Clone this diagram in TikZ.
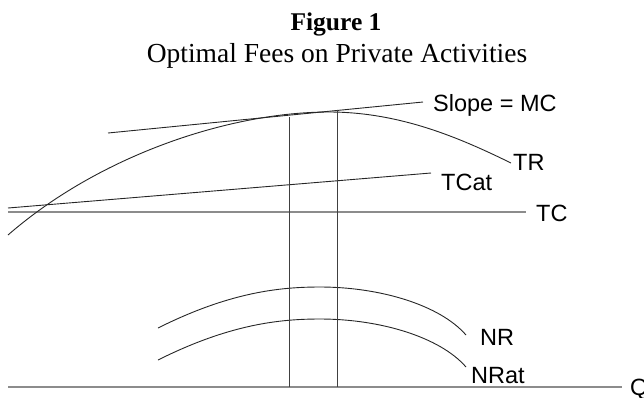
\documentclass[tikz,border=0pt]{standalone}
\usepackage{fontspec}
\setmainfont{Liberation Serif}
\setsansfont{Liberation Sans}
\usetikzlibrary{positioning}

\begin{document}
\begin{tikzpicture}[x=1bp,y=-1bp,
  curve/.style={line width=0.9bp,draw=black!85},
  level/.style={line width=1.6bp,draw=black!45},
  lbl/.style={font=\sffamily\fontsize{23.5bp}{28bp}\selectfont,inner sep=0pt,anchor=base west}]
\useasboundingbox (0,0) rectangle (644,397);
\node[font=\bfseries\fontsize{25.5bp}{30bp}\selectfont,inner sep=0pt,anchor=base] (fig) at (336,30) {Figure 1};
\node[font=\fontsize{27.5bp}{32bp}\selectfont,inner sep=0pt,anchor=base] (sub) at (337,62) {Optimal Fees on Private Activities};
% axis and costs
\draw[level] (8,387) -- (622,387) coordinate (qend);
\node[lbl] (q) at (630,395) {Q};
\draw[level] (8,212) -- (526,212) coordinate (tcend);
\node[lbl] (tc) at (536,221.5) {TC};
\draw[curve] (8,208) -- (431,173) coordinate (tcatend);
\node[lbl] (tcat) at (441,190.5) {TCat};
% revenue and tangent
\draw[curve] (8,235) .. controls (100,155) and (230,112) .. (329,112) coordinate (trtop)
  .. controls (400,112) and (460,138) .. (511,163) coordinate (trend);
\node[lbl] (tr) at (513,170.5) {TR};
\draw[curve] (108,133) -- (423,102) coordinate (slopeend);
\node[lbl] (slope) at (433,111.5) {Slope = MC};
% net revenue
\draw[curve] (158,328) .. controls (230,292) and (280,287) .. (320,287) coordinate (nrtop)
  .. controls (380,287) and (440,305) .. (466,335) coordinate (nrend);
\node[lbl] (nr) at (480,345) {NR};
\draw[curve] (158,360) .. controls (230,324) and (280,319) .. (320,319) coordinate (nrattop)
  .. controls (380,319) and (440,337) .. (466,367) coordinate (nratend);
\node[lbl] (nrat) at (471,383) {NRat};
% optimal quantities
\draw[curve,draw=black!75] (289,117) coordinate (qa) -- (289,387);
\draw[curve,draw=black!75] (337,110) coordinate (qb) -- (337,387);
\end{tikzpicture}
\end{document}
